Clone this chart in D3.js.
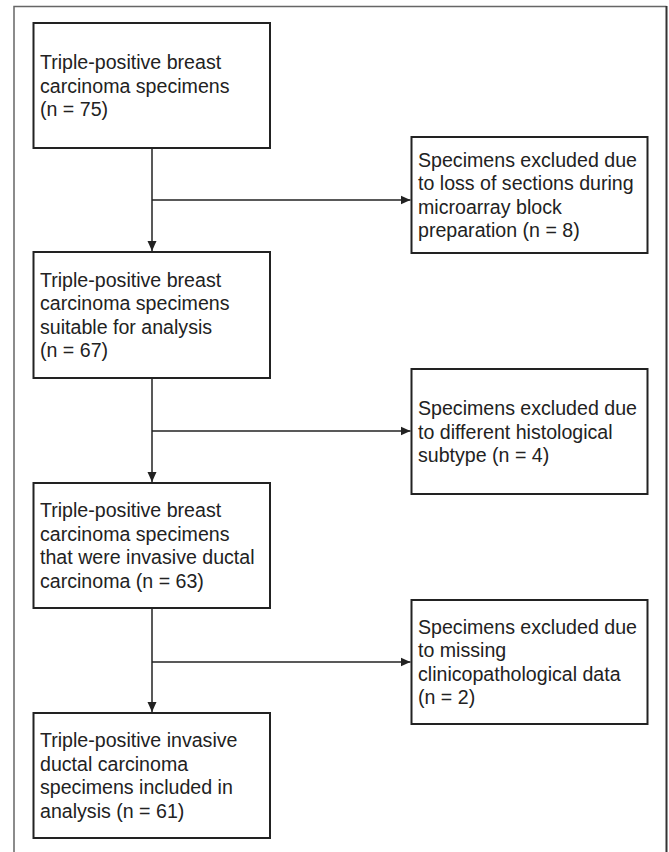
<!DOCTYPE html>
<html>
<head>
<meta charset="utf-8">
<script src="https://cdn.jsdelivr.net/npm/d3@7"></script>
<style>
  body { margin: 0; background: #fff; }
  svg { display: block; }
</style>
</head>
<body>
<svg id="chart"></svg>
<script>
// Flow stages (left column) and exclusions (right column)
const stageLines = [
    ['Triple-positive breast', 'carcinoma specimens', '(n = 75)'],
    ['Triple-positive breast', 'carcinoma specimens', 'suitable for analysis', '(n = 67)'],
    ['Triple-positive breast', 'carcinoma specimens', 'that were invasive ductal', 'carcinoma (n = 63)'],
    ['Triple-positive invasive', 'ductal carcinoma', 'specimens included in', 'analysis (n = 61)']
];
const excludedLines = [
    ['Specimens excluded due', 'to loss of sections during', 'microarray block', 'preparation (n = 8)'],
    ['Specimens excluded due', 'to different histological', 'subtype (n = 4)'],
    ['Specimens excluded due', 'to missing', 'clinicopathological data', '(n = 2)']
];
const stageCounts = [75, 67, 63, 61];
const excludedCounts = [8, 4, 2];

const width = 669;
const height = 852;
const lineH = 23.5;
const ink = '#222';

const svg = d3.select('#chart')
    .attr('width', width)
    .attr('height', height);

// arrowhead marker
svg.append('defs').append('marker')
    .attr('id', 'arrow')
    .attr('viewBox', '0 0 10 10')
    .attr('refX', 10)
    .attr('refY', 5)
    .attr('markerWidth', 10)
    .attr('markerHeight', 10)
    .attr('markerUnits', 'userSpaceOnUse')
    .attr('orient', 'auto')
    .append('path')
    .attr('d', 'M0,0.5 L10,5 L0,9.5 Z')
    .attr('fill', ink);

// outer frame (bottom runs off the page)
svg.append('path')
    .attr('d', 'M14,880 L14,6.5 L666.5,6.5')
    .attr('fill', 'none')
    .attr('stroke', '#666')
    .attr('stroke-width', 1.5);
svg.append('line')
    .attr('x1', 666.5).attr('x2', 666.5)
    .attr('y1', 6).attr('y2', 880)
    .attr('stroke', '#333')
    .attr('stroke-width', 2);

// layout of the boxes
const stageBoxes = [
    {y: 23, h: 125},
    {y: 252, h: 126},
    {y: 483, h: 125},
    {y: 713, h: 125}
];
const excludedBoxes = [
    {y: 137, h: 116},
    {y: 369, h: 125},
    {y: 600, h: 124}
];
const branchY = [200, 431, 662];

const leftX = d3.scaleLinear().domain([0, 1]).range([33.5, 270]);
const rightX = d3.scaleLinear().domain([0, 1]).range([411.5, 647.5]);
const trunkX = 152;

const stages = stageLines.map((lines, i) => ({lines, n: stageCounts[i], ...stageBoxes[i]}));
const excluded = excludedLines.map((lines, i) => ({lines, n: excludedCounts[i], ...excludedBoxes[i]}));

function drawBoxes(data, xs, cls) {
    const g = svg.selectAll('g.' + cls)
        .data(data)
        .enter()
        .append('g')
        .attr('class', cls);

    g.append('rect')
        .attr('x', xs(0))
        .attr('y', d => d.y)
        .attr('width', xs(1) - xs(0))
        .attr('height', d => d.h)
        .attr('fill', '#fff')
        .attr('stroke', ink)
        .attr('stroke-width', 2);

    // text block centred vertically in the box
    g.append('text')
        .attr('font-family', '"Liberation Sans", Arial, sans-serif')
        .attr('font-size', 19.6)
        .attr('fill', ink)
        .selectAll('tspan')
        .data(d => {
            const first = d.y + d.h / 2 - (d.lines.length - 1) * lineH / 2;
            return d.lines.map((t, j) => ({t, y: first + j * lineH}));
        })
        .enter()
        .append('tspan')
        .attr('x', xs(0) + 6.5)
        .attr('y', d => d.y)
        .attr('dominant-baseline', 'central')
        .text(d => d.t);
}

// connectors between the stages
for (let i = 0; i < stages.length - 1; i++) {
    svg.append('line')
        .attr('x1', trunkX).attr('x2', trunkX)
        .attr('y1', stages[i].y + stages[i].h)
        .attr('y2', stages[i + 1].y - 1)
        .attr('stroke', ink)
        .attr('stroke-width', 1.5)
        .attr('marker-end', 'url(#arrow)');

    svg.append('line')
        .attr('x1', trunkX).attr('x2', rightX(0) - 1)
        .attr('y1', branchY[i]).attr('y2', branchY[i])
        .attr('stroke', ink)
        .attr('stroke-width', 1.5)
        .attr('marker-end', 'url(#arrow)');
}

drawBoxes(stages, leftX, 'stage');
drawBoxes(excluded, rightX, 'excluded');
</script>
</body>
</html>
